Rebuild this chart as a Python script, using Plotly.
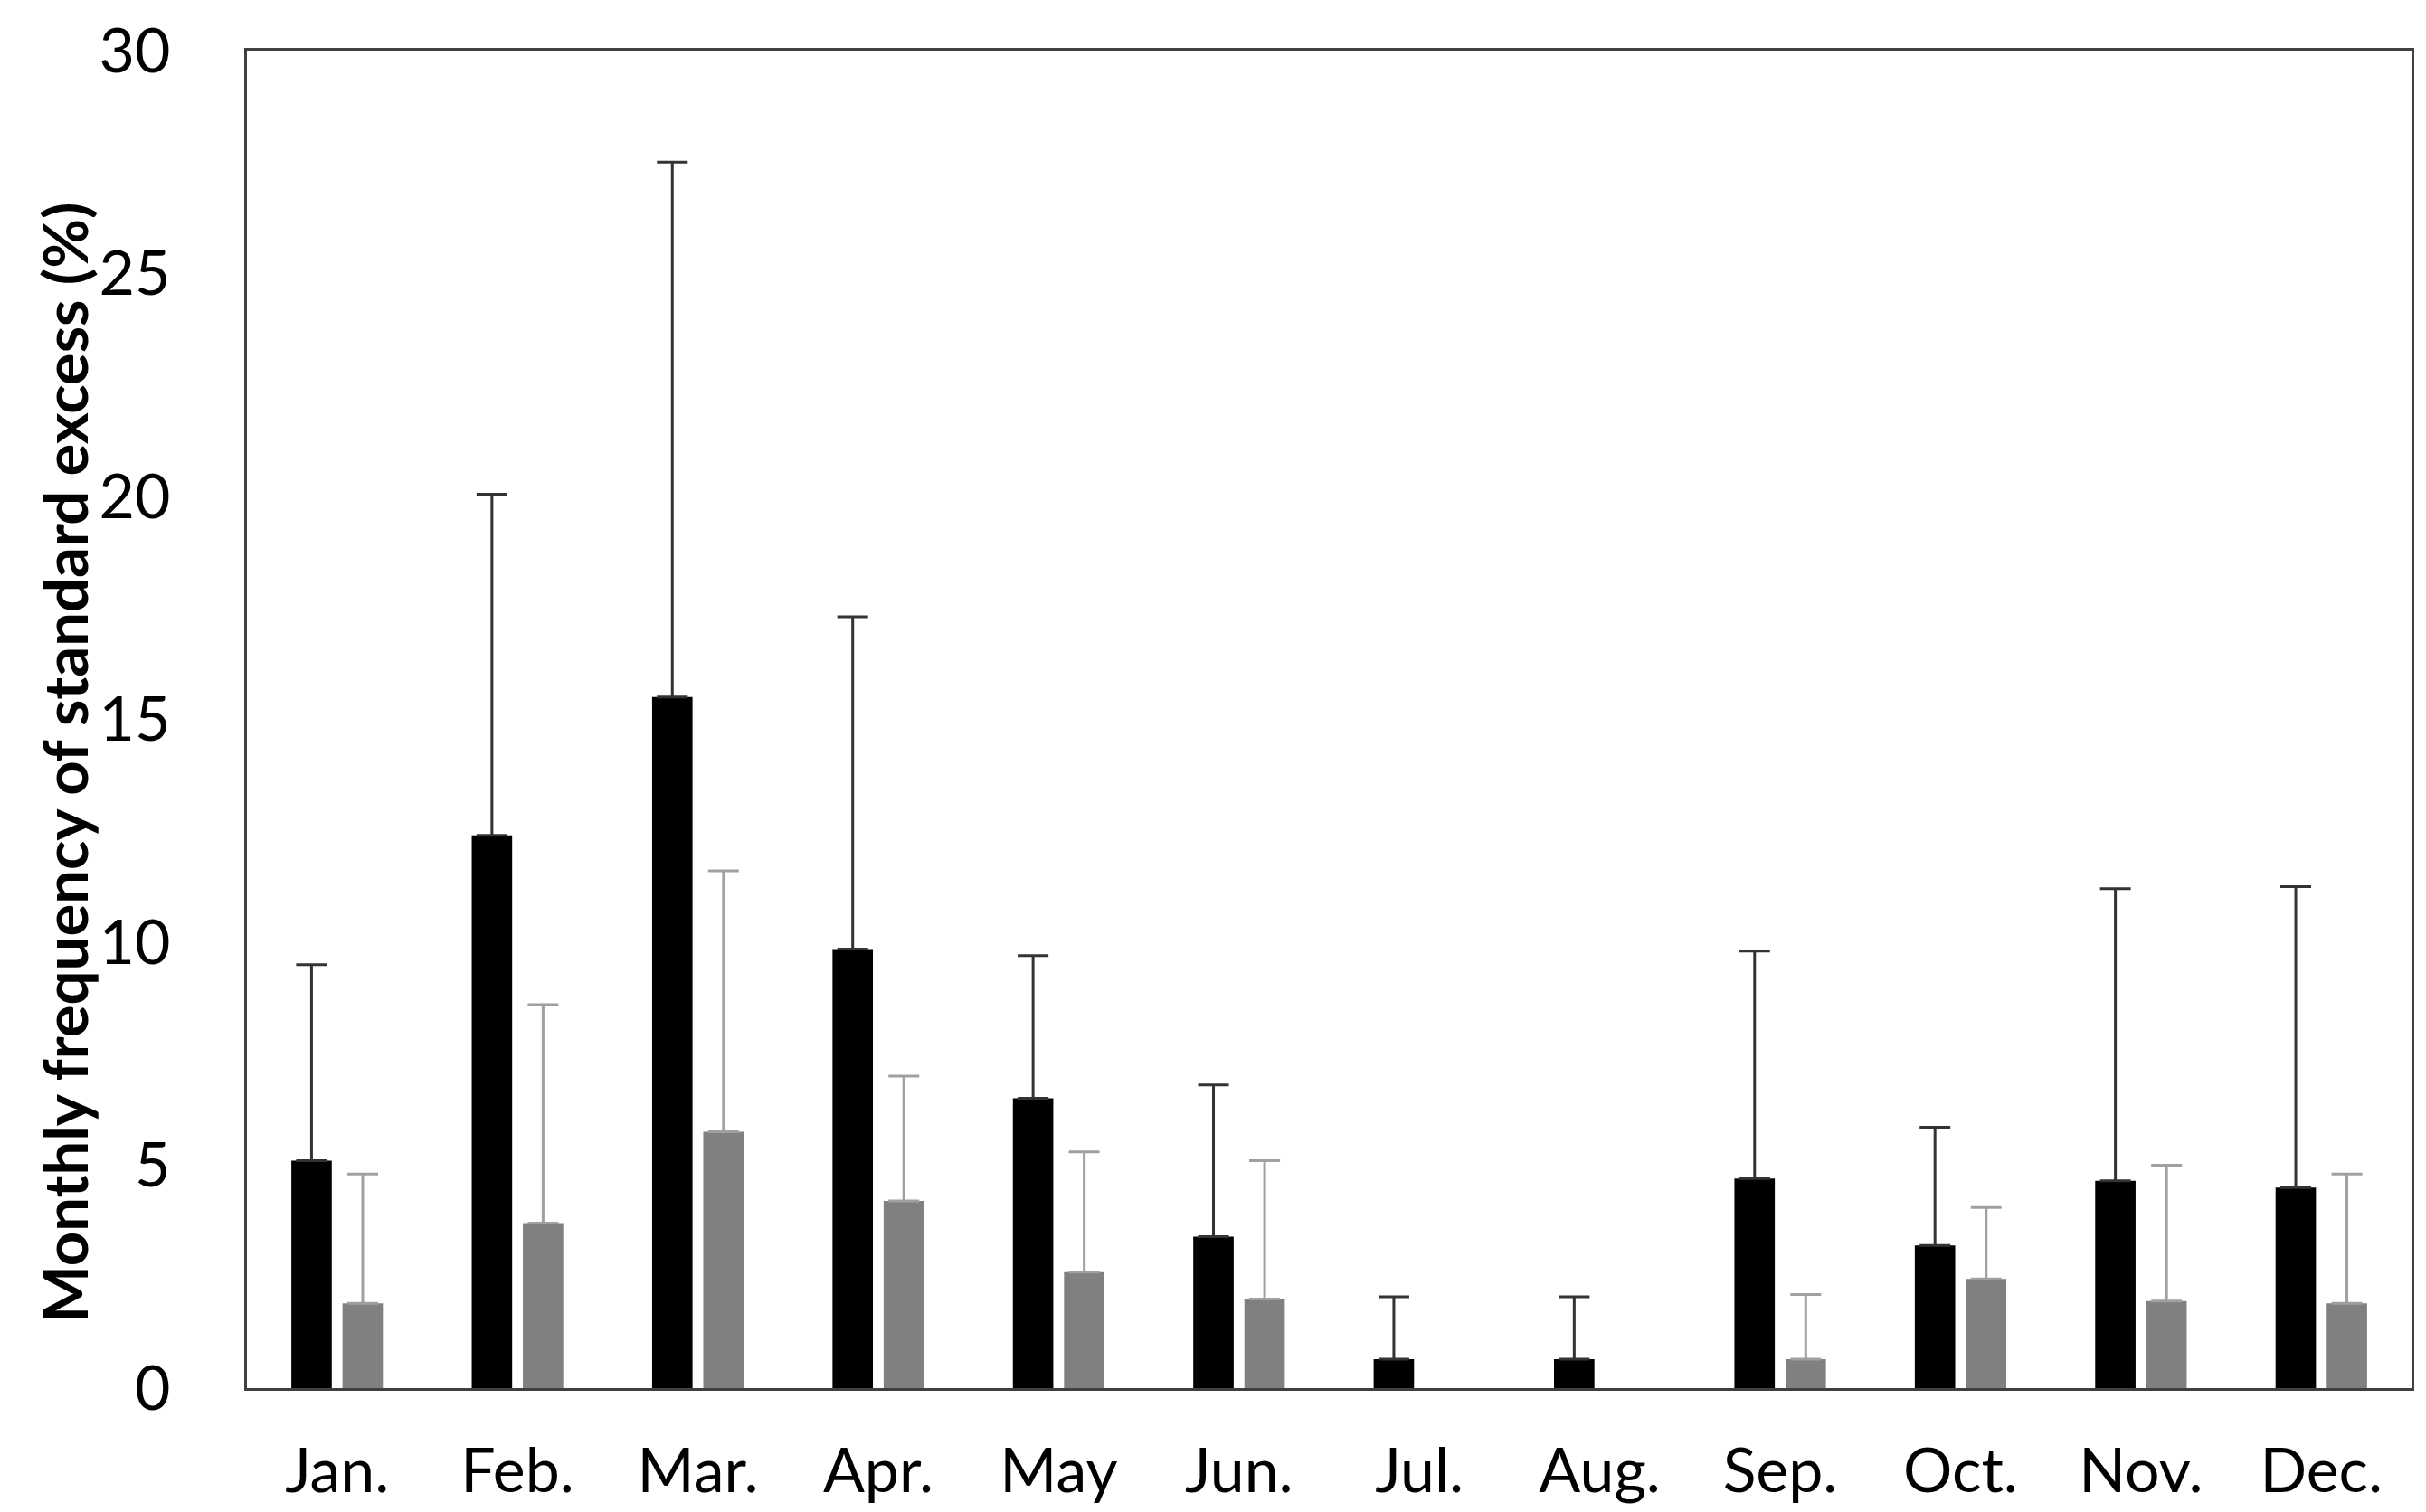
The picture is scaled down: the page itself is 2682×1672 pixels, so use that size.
import plotly.graph_objects as go

months = ["Jan.", "Feb.", "Mar.", "Apr.", "May", "Jun.", "Jul.", "Aug.", "Sep.", "Oct.", "Nov.", "Dec."]
black_vals = [5.1, 12.4, 15.5, 9.85, 6.5, 3.4, 0.65, 0.65, 4.7, 3.2, 4.65, 4.5]
black_sd = [4.4, 7.65, 12.0, 7.45, 3.2, 3.4, 1.4, 1.4, 5.1, 2.65, 6.55, 6.75]
gray_vals = [1.9, 3.7, 5.75, 4.2, 2.6, 2.0, None, None, 0.65, 2.45, 1.95, 1.9]
gray_sd = [2.9, 4.9, 5.85, 2.8, 2.7, 3.1, None, None, 1.45, 1.6, 3.05, 2.9]
y_ticks = [0, 5, 10, 15, 20, 25, 30]
y_title = "Monthly frequency of standard excess (%)"

FONT = "Lato, 'Open Sans', sans-serif"
TICK_SIZE = 68

fig = go.Figure()
fig.add_trace(go.Bar(
    x=months, y=black_vals, marker=dict(color="#000000", line=dict(width=0)),
    error_y=dict(type="data", symmetric=False, array=black_sd,
                 arrayminus=[0] * len(months), color="#333333", thickness=3, width=17),
    showlegend=False,
))
fig.add_trace(go.Bar(
    x=months, y=gray_vals, marker=dict(color="#808080", line=dict(width=0)),
    error_y=dict(type="data", symmetric=False, array=gray_sd,
                 arrayminus=[0] * len(months), color="#a0a0a0", thickness=3, width=17),
    showlegend=False,
))

# y-axis title, placed slightly below the plot's vertical centre as in the reference
fig.add_annotation(x=-0.0845, xref="paper", y=0.468, yref="paper",
                   text="<b>" + y_title + "</b>", textangle=-90, showarrow=False,
                   xanchor="center", yanchor="middle",
                   font=dict(size=67, family=FONT, color="#000000"))

fig.update_layout(
    width=2682, height=1672,
    margin=dict(l=265, r=24, t=48, b=145, autoexpand=False),
    paper_bgcolor="white", plot_bgcolor="white",
    barmode="group", bargap=0.433, bargroupgap=0.21,
    font=dict(family=FONT, color="#000000"),
    xaxis=dict(
        showline=True, linecolor="#404040", linewidth=3, mirror=True,
        showgrid=False, ticks="", tickfont=dict(size=TICK_SIZE, family=FONT),
        ticklabelstandoff=30,
    ),
    yaxis=dict(
        range=[0, 30], tickvals=y_ticks, showline=True, linecolor="#404040",
        linewidth=3, mirror=True, showgrid=False, zeroline=False, ticks="",
        tickfont=dict(size=TICK_SIZE, family=FONT), ticklabelstandoff=68,
    ),
)

fig.write_html("out.html")
